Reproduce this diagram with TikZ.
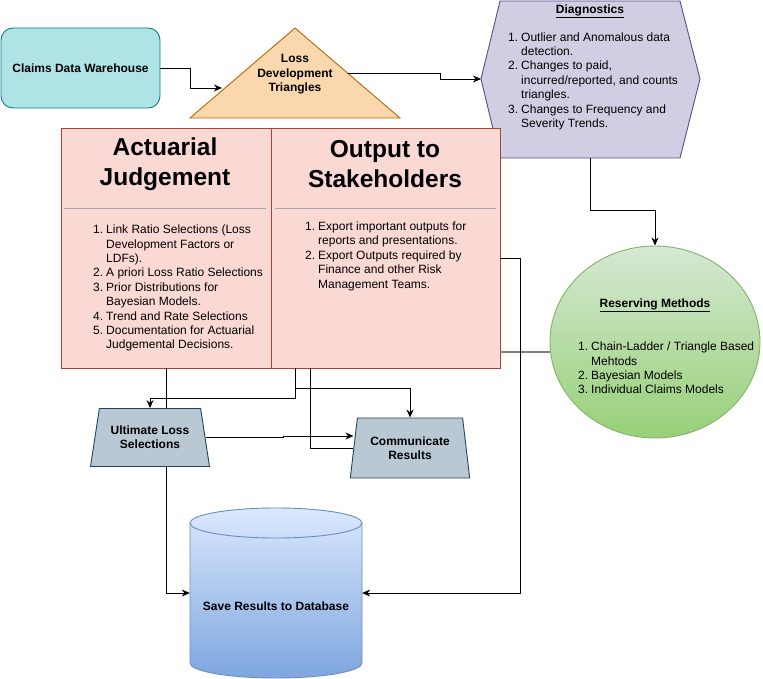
\documentclass[tikz,border=0pt]{standalone}
\usepackage{fontspec}
\setmainfont{Liberation Sans}
\usetikzlibrary{shapes.geometric}
\usetikzlibrary{arrows.meta}
\definecolor{cdwfill}{HTML}{B0E3E6}
\definecolor{cdwdraw}{HTML}{0E8088}
\definecolor{trifill}{HTML}{FAD7AC}
\definecolor{tridraw}{HTML}{B46504}
\definecolor{diagfill}{HTML}{D0CEE2}
\definecolor{diagdraw}{HTML}{56517E}
\definecolor{boxfill}{HTML}{FAD9D5}
\definecolor{boxdraw}{HTML}{AE4132}
\definecolor{restop}{HTML}{D5E8D4}
\definecolor{resbot}{HTML}{97D077}
\definecolor{resdraw}{HTML}{82B366}
\definecolor{trapfill}{HTML}{BAC8D3}
\definecolor{trapdraw}{HTML}{23445D}
\definecolor{dbtop}{HTML}{DAE8FC}
\definecolor{dbbot}{HTML}{7EA6E0}
\definecolor{dbdraw}{HTML}{6C8EBF}

\begin{document}
\begin{tikzpicture}[x=1pt,y=-1pt,
    every node/.style={font=\fontsize{12}{14.4}\selectfont},
    boldtext/.style={align=center,font=\fontsize{12}{14.4}\selectfont\bfseries},
    headtext/.style={align=center,font=\fontsize{24.5}{30}\selectfont\bfseries},
    listtext/.style={anchor=west,inner sep=0pt},
    bigbox/.style={draw=boxdraw,fill=boxfill,line width=0.9pt,minimum height=240},
    trapbox/.style={trapezium,trapezium stretches=true,draw=trapdraw,fill=trapfill,line width=0.9pt,boldtext},
    sepline/.style={draw=gray!70,line width=0.9pt},
    link/.style={draw=black,line width=0.9pt,-{Stealth[length=8pt,width=7pt]}},
    plainlink/.style={draw=black,line width=0.9pt},
    graylink/.style={draw=gray,line width=1.2pt}]
\useasboundingbox (0,0) rectangle (763,679);

% claims data and triangles
\node[draw=cdwdraw,fill=cdwfill,line width=0.9pt,rounded corners=12pt,minimum width=159,minimum height=80,boldtext] (cdw) at (80.5,68) {Claims Data Warehouse};
\filldraw[draw=tridraw,fill=trifill,line width=0.9pt] (295,28) -- (400,118) -- (190,118) -- cycle;
\node[boldtext] (ldt) at (295,74.5) {Loss\\Development\\Triangles};
\coordinate (ldt in) at (222,88);
\coordinate (ldt out) at (348,73);

% diagnostics
\filldraw[draw=diagdraw,fill=diagfill,line width=0.9pt] (500,1) -- (680,1) -- (700,79) -- (680,158) -- (500,158) -- (481,79) -- cycle;
\node[boldtext] (diagtitle) at (590,11) {\underline{Diagnostics}};
\node[listtext] (diaglist) at (508,81.5) {\begin{tabular}{@{}r@{\hspace{3pt}}l@{}}
1. & Outlier and Anomalous data\\
   & detection.\\
2. & Changes to paid,\\
   & incurred/reported, and counts\\
   & triangles.\\
3. & Changes to Frequency and\\
   & Severity Trends.
\end{tabular}};
\coordinate (diag in) at (481,79);
\coordinate (diag out) at (590,158);

% reserving methods
\node[ellipse,draw=resdraw,line width=0.9pt,top color=restop,bottom color=resbot,minimum width=210,minimum height=192] (res) at (655,342) {};
\node[boldtext] (restitle) at (655,305) {\underline{Reserving Methods}};
\node[listtext] (reslist) at (578,369.5) {\begin{tabular}{@{}r@{\hspace{3pt}}l@{}}
1. & Chain-Ladder / Triangle Based\\
   & Mehtods\\
2. & Bayesian Models\\
3. & Individual Claims Models
\end{tabular}};

% judgement and output boxes
\node[bigbox,minimum width=210] (aj) at (166,248) {};
\node[bigbox,minimum width=229] (out) at (385.5,248) {};
\node[headtext] (ajhead) at (165,164) {Actuarial\\Judgement};
\node[headtext] (outhead) at (385,164) {Output to\\Stakeholders};
\draw[sepline] (64,208) -- (266,208);
\draw[sepline] (275,208) -- (496,208);
\node[listtext] (ajlist) at (93,288.5) {\begin{tabular}{@{}r@{\hspace{3pt}}l@{}}
1. & Link Ratio Selections (Loss\\
   & Development Factors or\\
   & LDFs).\\
2. & A priori Loss Ratio Selections\\
3. & Prior Distributions for\\
   & Bayesian Models.\\
4. & Trend and Rate Selections\\
5. & Documentation for Actuarial\\
   & Judgemental Decisions.
\end{tabular}};
\node[listtext] (outlist) at (305,256.5) {\begin{tabular}{@{}r@{\hspace{3pt}}l@{}}
1. & Export important outputs for\\
   & reports and presentations.\\
2. & Export Outputs required by\\
   & Finance and other Risk\\
   & Management Teams.
\end{tabular}};

% selections and communication
\node[trapbox,minimum width=120,minimum height=58,trapezium left angle=76,trapezium right angle=76] (uls) at (150,437.5) {Ultimate Loss\\Selections};
\node[trapbox,minimum width=120,minimum height=60,trapezium left angle=79,trapezium right angle=79] (com) at (410,448) {Communicate\\Results};

% database
\shadedraw[top color=dbtop,bottom color=dbbot,draw=dbdraw,line width=0.9pt] (190,523) -- (190,663) arc[start angle=180,end angle=360,x radius=86pt,y radius=15pt] -- (362,523) arc[start angle=0,end angle=180,x radius=86pt,y radius=15pt] -- cycle;
\draw[draw=dbdraw,line width=0.9pt] (190,523) arc[start angle=180,end angle=360,x radius=86pt,y radius=15pt];
\node[minimum width=172,minimum height=170] (db) at (276,593) {};
\node[boldtext] (dbtext) at (276,606) {Save Results to Database};

% connectors
\draw[link] (cdw.east) -- ++(30,0) |- (ldt in);
\draw[link] (ldt out) -- ++(92,0) |- (diag in);
\draw[link] (diag out) -- ++(0,52) -| (res.north);
\coordinate (res link) at ([yshift=-10pt]res.west);
\draw[graylink] (res link) -- (res link -| out.east);
\draw[link] ([yshift=-10pt]out.east) -- ++(20,0) |- (db.east);
\draw[plainlink] (aj.south) -- (aj.south |- uls.north);
\draw[link] (aj.south |- uls.south) |- (db.west);
\coordinate (out a) at ([xshift=25pt]out.south west);
\coordinate (out b) at ([xshift=40pt]out.south west);
\draw[link] (out a) -- ++(0,30) -| (uls.north);
\draw[link] (out a) -- ++(0,20) -| (com.north);
\draw[plainlink] (out b) |- (com.west);
\draw[link] (uls.east) -- ++(78,0) |- ([yshift=12pt]com.west);

\end{tikzpicture}
\end{document}
